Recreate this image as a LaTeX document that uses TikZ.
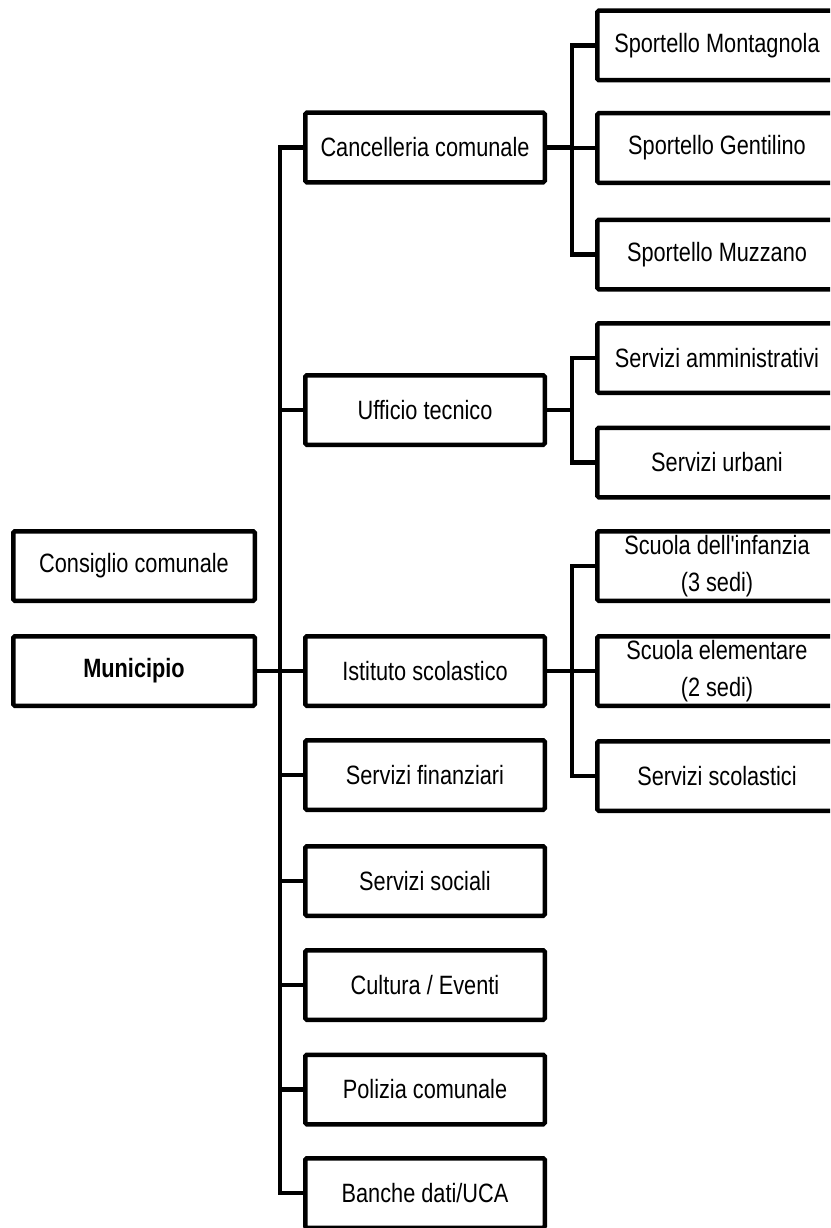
\documentclass[tikz,border=0pt]{standalone}
\usepackage{fontspec}
\setmainfont{Liberation Sans}[FakeStretch=0.82]
\newfontfamily\plainq{Liberation Sans}[FakeStretch=0.82]
\begin{document}
\begin{tikzpicture}[x=1pt,y=-1pt,
  box/.style={draw=black, line width=4.5pt, rounded corners=1.5pt, fill=white,
    minimum width=239.5pt, minimum height=69.5pt, inner sep=0pt, align=center,
    font=\fontsize{26.5}{37}\selectfont},
  lbox/.style={box, minimum width=241.5pt},
  link/.style={draw=black, line width=4.5pt}]
\clip (0,0) rectangle (830,1228);
\fill[white] (0,0) rectangle (830,1228);
% left column
\node[lbox] (cons) at (134,566) {Consiglio comunale};
\node[lbox, font=\fontsize{26.5}{37}\selectfont\bfseries] (mun) at (134,671) {Municipio};
% middle column
\node[box] (canc) at (425,147.5) {Cancelleria comunale};
\node[box] (uff) at (425,410) {Ufficio tecnico};
\node[box] (ist) at (425,671) {Istituto scolastico};
\node[box] (fin) at (425,775) {Servizi finanziari};
\node[box] (soc) at (425,881) {Servizi sociali};
\node[box] (cult) at (425,985) {Cultura / Eventi};
\node[box] (pol) at (425,1089.5) {Polizia comunale};
\node[box] (banc) at (425,1193) {Banche dati/UCA};
% right column
\node[box] (mont) at (717,45.5) {Sportello Montagnola};
\node[box] (gent) at (717,148) {Sportello Gentilino};
\node[box] (muz) at (717,254.5) {Sportello Muzzano};
\node[box] (amm) at (717,358) {Servizi amministrativi};
\node[box] (urb) at (717,462.5) {Servizi urbani};
\node[box] (inf) at (717,566) {Scuola dell{\plainq'}infanzia\\(3 sedi)};
\node[box] (ele) at (717,671) {Scuola elementare\\(2 sedi)};
\node[box] (scol) at (717,776) {Servizi scolastici};
% trunks
\coordinate (t) at (280,0);
\coordinate (s1) at (572,0);
\coordinate (s2) at (572,0);
\coordinate (s3) at (572,0);
% main trunk
\draw[link] (canc.west) -- (t |- canc) -- (t |- banc) -- (banc.west);
\draw[link] (mun.east) -- (ist.west);
\foreach \n in {uff,fin,soc,cult,pol}{
  \draw[link] (t |- \n) -- (\n.west);
}
% Cancelleria branch
\draw[link] (mont.west) -- (s1 |- mont) -- (s1 |- muz) -- (muz.west);
\draw[link] (canc.east) -- (s1 |- canc);
\draw[link] (s1 |- gent) -- (gent.west);
% Ufficio branch
\draw[link] (amm.west) -- (s2 |- amm) -- (s2 |- urb) -- (urb.west);
\draw[link] (uff.east) -- (s2 |- uff);
% Istituto branch
\draw[link] (inf.west) -- (s3 |- inf) -- (s3 |- scol) -- (scol.west);
\draw[link] (ist.east) -- (ele.west);
\end{tikzpicture}
\end{document}
